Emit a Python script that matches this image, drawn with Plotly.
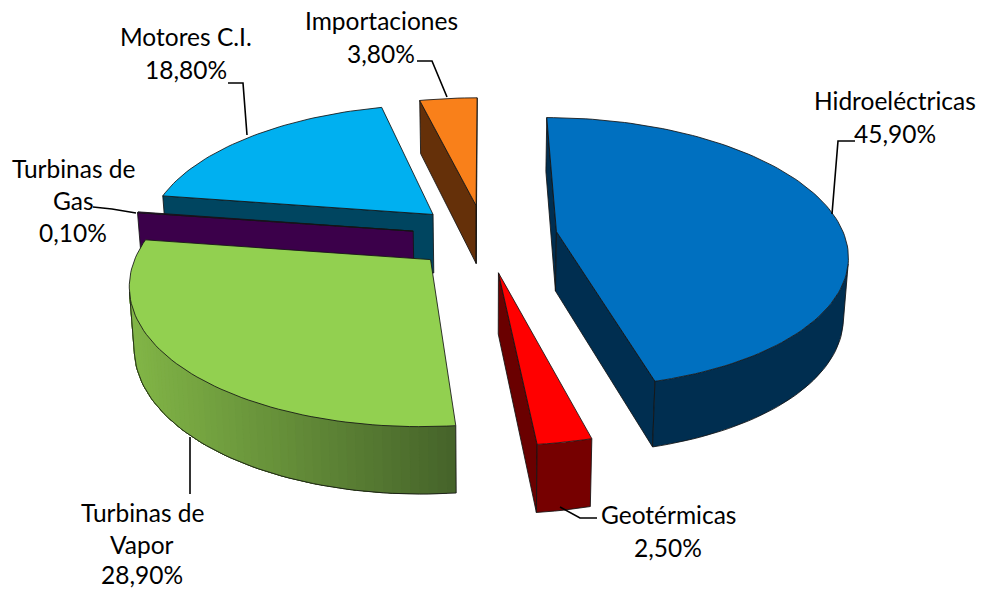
import numpy as np
import plotly.graph_objects as go

# ---- data ----
categories = ["Hidroeléctricas", "Geotérmicas", "Turbinas de Vapor",
              "Turbinas de Gas", "Motores C.I.", "Importaciones"]
values = [45.9, 2.5, 28.9, 0.1, 18.8, 3.8]

# ---- styling per slice ----
explode = [0.255, 0.27, 0.25, 0.25, 0.246, 0.24]
top_colors = ["#0070C0", "#FF0000", "#92D050", "#4B0060", "#00B0F0", "#F9801A"]
wall_colors = ["#002E50", "#6A0000", "#4A6A28", "#3B004A", "#004560", "#653009"]
rim_colors = [("#002E50", "#002E50"), ("#760000", "#760000"), ("#82B647", "#46642A"),
              ("#3B004A", "#3B004A"), ("#004560", "#004560"), ("#653009", "#653009")]
draw_order = [5, 4, 3, 2, 1, 0]

# ---- projection ----
CX, CY, A, B, K = 484.0, 236.0, 288.0, 133.0, 0.155
H, K2, SHRINK = 59.5, 0.10, 0.014
OUTLINE = "rgba(20,20,20,0.85)"


def proj(X, Y, depth=0.0):
    w = 1 + K * Y
    sx = CX + A * X / w * (1 - SHRINK * depth)
    sy = CY - B * Y / w + depth * H / (1 + K2 * Y)
    return sx, sy


def area(pts):
    s = 0.0
    for (x0, y0), (x1, y1) in zip(pts, pts[1:] + pts[:1]):
        s += x0 * y1 - x1 * y0
    return s / 2


def mix(c0, c1, t):
    a0 = [int(c0[i:i + 2], 16) for i in (1, 3, 5)]
    a1 = [int(c1[i:i + 2], 16) for i in (1, 3, 5)]
    return "rgb(%d,%d,%d)" % tuple(round(p + (q - p) * t) for p, q in zip(a0, a1))


fig = go.Figure()


def poly(pts, fill, line=None, width=1.0):
    xs = [p[0] for p in pts] + [pts[0][0]]
    ys = [p[1] for p in pts] + [pts[0][1]]
    fig.add_trace(go.Scatter(x=xs, y=ys, mode="lines", fill="toself", fillcolor=fill,
                             line=dict(color=line or fill, width=width),
                             hoverinfo="skip", showlegend=False))


def polyline(pts, width=1.0):
    fig.add_trace(go.Scatter(x=[p[0] for p in pts], y=[p[1] for p in pts], mode="lines",
                             line=dict(color=OUTLINE, width=width),
                             hoverinfo="skip", showlegend=False))


edges = np.cumsum([0.0] + list(values)) / sum(values) * 2 * np.pi

for i in draw_order:
    t0, t1 = edges[i], edges[i + 1]
    mid = (t0 + t1) / 2
    X0, Y0 = explode[i] * np.sin(mid), explode[i] * np.cos(mid)
    n = max(2, int(np.degrees(t1 - t0) / 1.5))
    th = np.linspace(t0, t1, n + 1)
    rx, ry = X0 + np.sin(th), Y0 + np.cos(th)
    top = [proj(x, y) for x, y in zip(rx, ry)]
    bot = [proj(x, y, 1) for x, y in zip(rx, ry)]
    ap_t, ap_b = proj(X0, Y0), proj(X0, Y0, 1)

    # radial walls, only those facing the viewer
    w_start = [ap_t, top[0], bot[0], ap_b]
    w_end = [top[-1], ap_t, ap_b, bot[-1]]
    for quad in (w_start, w_end):
        if area(quad) < 0:
            poly(quad, wall_colors[i], OUTLINE)

    # outer wall: overlapping bands so no seams show
    vis = [k for k in range(n) if area([top[k], top[k + 1], bot[k + 1], bot[k]]) < 0]
    if vis:
        first, last = vis[0], vis[-1] + 1
        c0, c1 = rim_colors[i]
        lo = min(p[0] for p in top[first:last + 1])
        hi = max(p[0] for p in top[first:last + 1])
        starts = vis if c0 != c1 else [first]
        # bands paint from the right end of the arc towards the left
        for k in starts:
            t = (hi - top[k][0]) / max(hi - lo, 1)
            c = mix(c1, c0, t)
            poly(top[k:last + 1] + bot[k:last + 1][::-1], c, c, 0.1)
        polyline(bot[first:last + 1])
        polyline([top[first], bot[first]])
        polyline([top[last], bot[last]])

    # top face
    poly([ap_t] + top, top_colors[i], OUTLINE)

# ---- labels ----
pct = [("%.2f%%" % v).replace(".", ",") for v in values]
label_lines = [
    (["Hidroeléctricas", pct[0]], 895, [100, 133]),
    (["Geotérmicas", pct[1]], 668, [514, 547]),
    (["Turbinas de", "Vapor", pct[2]], 142, [512, 544, 574]),
    (["Turbinas de", "Gas", pct[3]], 73, [168, 200, 232]),
    (["Motores C.I.", pct[4]], 186, [36, 69]),
    (["Importaciones", pct[5]], 381, [20, 53]),
]
annotations = []
for lines, lx, lys in label_lines:
    for txt, ly in zip(lines, lys):
        annotations.append(dict(x=lx, y=ly, text=txt, showarrow=False, xanchor="center",
                                yanchor="middle", font=dict(family="Lato", size=24.5, color="#000000")))

leaders = [
    [(832, 214), (838, 141), (855, 141)],
    [(560, 507), (580, 518), (597, 518)],
    [(190, 437), (190, 494)],
    [(136, 213), (112, 209), (93, 207)],
    [(247, 135), (243, 83), (228, 83)],
    [(447, 97), (432, 61), (417, 61)],
]
for pts in leaders:
    fig.add_trace(go.Scatter(x=[p[0] for p in pts], y=[p[1] for p in pts], mode="lines",
                             line=dict(color="#000000", width=1.6),
                             hoverinfo="skip", showlegend=False))

fig.update_layout(
    width=981, height=590, margin=dict(l=0, r=0, t=0, b=0),
    paper_bgcolor="#FFFFFF", plot_bgcolor="#FFFFFF", showlegend=False,
    annotations=annotations,
    xaxis=dict(range=[0, 981], visible=False, fixedrange=True),
    yaxis=dict(range=[590, 0], visible=False, fixedrange=True),
)
fig.write_html("out.html", config={"displayModeBar": False},
               post_script="document.body.style.margin='0';document.documentElement.style.overflow='hidden';")
